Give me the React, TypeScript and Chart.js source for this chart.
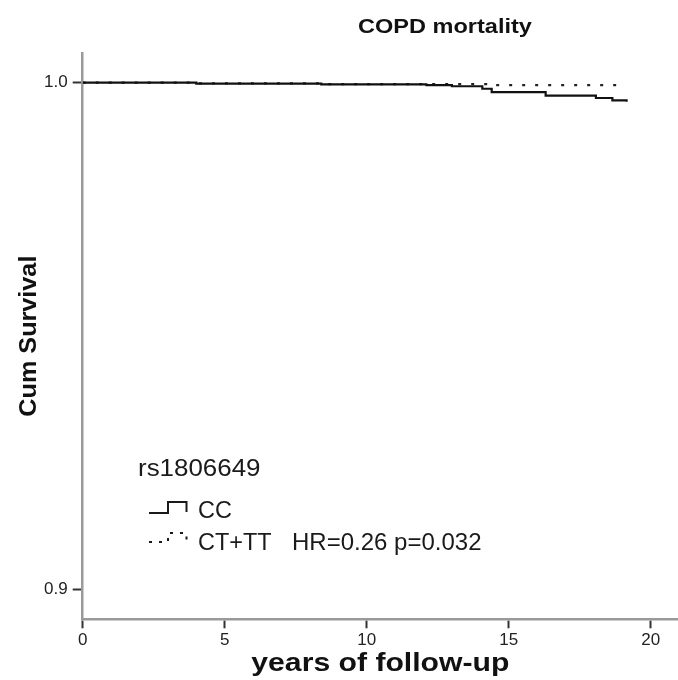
import React, { useEffect, useRef } from "react";
import { Chart, registerables } from "chart.js";

Chart.register(...registerables);

const ccTimes = [0, 4.0, 8.4, 12.1, 13.0, 14.07, 14.4, 16.3, 18.07, 18.65, 19.15];
const ccSurvival = [1.0, 0.9998, 0.99965, 0.9995, 0.9993, 0.9988, 0.99812, 0.99745, 0.99698, 0.99652, 0.99625];
const cttTimes = [0, 4.0, 8.4, 14.5, 18.85];
const cttSurvival = [1.0, 0.99985, 0.9997, 0.9995, 0.99918];
const xTicks = [0, 5, 10, 15, 20];
const yTicks = [0.9, 1.0];

const FONT = "'Liberation Sans', Arial, sans-serif";

function stretchedText(ctx: CanvasRenderingContext2D, text: string, x: number, y: number, sx: number, align: CanvasTextAlign) {
  ctx.save();
  ctx.translate(x, y);
  ctx.scale(sx, 1);
  ctx.textAlign = align;
  ctx.fillText(text, 0, 0);
  ctx.restore();
}

const textPlugin = {
  id: "textPlugin",
  afterDraw(chart: any) {
    const ctx = chart.ctx as CanvasRenderingContext2D;
    const area = chart.chartArea;
    ctx.save();
    ctx.fillStyle = "#111";
    ctx.textBaseline = "middle";
    // main title
    ctx.font = `bold 21px ${FONT}`;
    stretchedText(ctx, "COPD mortality", 445, 27, 1.12, "center");
    // x title
    ctx.font = `bold 26px ${FONT}`;
    stretchedText(ctx, "years of follow-up", (area.left + area.right) / 2, 664, 1.16, "center");
    // y title
    ctx.save();
    ctx.translate(29, (area.top + area.bottom) / 2);
    ctx.rotate(-Math.PI / 2);
    ctx.font = `bold 24px ${FONT}`;
    stretchedText(ctx, "Cum Survival", 0, 0, 1.05, "center");
    ctx.restore();
    // legend
    ctx.textBaseline = "alphabetic";
    ctx.fillStyle = "#1a1a1a";
    ctx.font = `24px ${FONT}`;
    stretchedText(ctx, "rs1806649", 138, 476, 1.08, "left");
    ctx.font = `23px ${FONT}`;
    stretchedText(ctx, "CC", 198, 518, 1.02, "left");
    stretchedText(ctx, "CT+TT", 198, 550, 1.02, "left");
    ctx.font = `24px ${FONT}`;
    stretchedText(ctx, "HR=0.26 p=0.032", 292, 550, 1.0, "left");
    ctx.strokeStyle = "#1a1a1a";
    ctx.lineWidth = 2;
    ctx.beginPath();
    ctx.moveTo(149, 513);
    ctx.lineTo(168, 513);
    ctx.lineTo(168, 502);
    ctx.lineTo(186.5, 502);
    ctx.lineTo(186.5, 512);
    ctx.stroke();
    ctx.setLineDash([3, 7]);
    ctx.beginPath();
    ctx.moveTo(149, 542);
    ctx.lineTo(168, 542);
    ctx.lineTo(168, 533);
    ctx.lineTo(186.5, 533);
    ctx.lineTo(186.5, 542);
    ctx.stroke();
    ctx.restore();
  },
};

export default function App() {
  const ref = useRef<HTMLCanvasElement | null>(null);
  useEffect(() => {
    if (!ref.current) return;
    const chart = new Chart(ref.current, {
      type: "line",
      data: {
        datasets: [
          {
            label: "CC",
            data: ccTimes.map((t, i) => ({ x: t, y: ccSurvival[i] })),
            borderColor: "#111",
            borderWidth: 2.2,
            pointRadius: 0,
            stepped: "before",
            fill: false,
          },
          {
            label: "CT+TT",
            data: cttTimes.map((t, i) => ({ x: t, y: cttSurvival[i] })),
            borderColor: "#222",
            borderWidth: 2.2,
            borderDash: [3, 10],
            pointRadius: 0,
            stepped: "before",
            fill: false,
          },
        ],
      },
      options: {
        responsive: false,
        animation: false,
        layout: { padding: { top: 53, right: 0, left: 0, bottom: 0 } },
        plugins: { legend: { display: false }, title: { display: false }, tooltip: { enabled: false } },
        scales: {
          x: {
            type: "linear",
            min: 0,
            max: 20.96,
            afterBuildTicks: (s: any) => {
              s.ticks = xTicks.map((v) => ({ value: v }));
            },
            afterFit: (s: any) => {
              s.height = 60.7;
            },
            ticks: { color: "#222", font: { family: FONT, size: 17 }, padding: 2, maxRotation: 0 },
            grid: { drawOnChartArea: false, drawTicks: true, tickLength: 9, tickColor: "#333", tickWidth: 2 },
            border: { color: "#9a9a9a", width: 2.5 },
          },
          y: {
            type: "linear",
            min: 0.89408,
            max: 1.00586,
            afterBuildTicks: (s: any) => {
              s.ticks = yTicks.map((v) => ({ value: v }));
            },
            afterFit: (s: any) => {
              s.width = 82.7;
            },
            ticks: {
              color: "#222",
              font: { family: FONT, size: 17 },
              padding: 5,
              callback: (v: any) => Number(v).toFixed(1),
            },
            grid: { drawOnChartArea: false, drawTicks: true, tickLength: 10, tickColor: "#333", tickWidth: 2 },
            border: { color: "#9a9a9a", width: 2.5 },
          },
        },
      },
      plugins: [textPlugin],
    });
    return () => chart.destroy();
  }, []);
  return (
    <div style={{ position: "absolute", left: 0, top: 0, width: 678, height: 680, background: "#fff" }}>
      <canvas ref={ref} width={678} height={680} />
    </div>
  );
}
